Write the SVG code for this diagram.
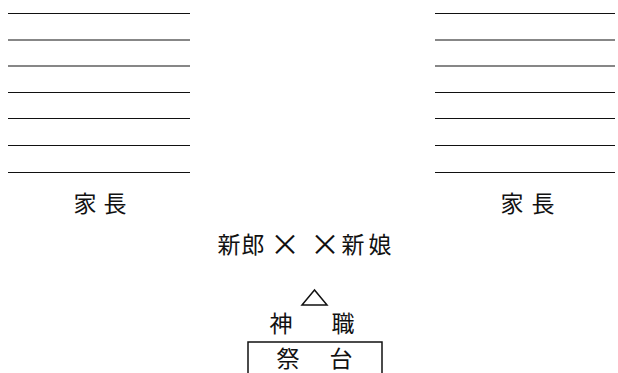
<svg xmlns="http://www.w3.org/2000/svg" width="618" height="373" viewBox="0 0 618 373">
<style>
.t{font-family:"Noto Sans CJK JP","Noto Sans CJK SC",sans-serif;font-size:23px;fill:#111;text-anchor:middle}
.x{font-size:30px}
.ln{stroke:#111;stroke-width:1.2;fill:none}
</style>
<rect width="618" height="373" fill="#fff"/>
<g id="left-lines" class="ln">
<line x1="8" y1="13.5" x2="190" y2="13.5"/>
<line x1="8" y1="40" x2="190" y2="40"/>
<line x1="8" y1="66" x2="190" y2="66"/>
<line x1="8" y1="92.5" x2="190" y2="92.5"/>
<line x1="8" y1="118.5" x2="190" y2="118.5"/>
<line x1="8" y1="145.5" x2="190" y2="145.5"/>
<line x1="8" y1="172.5" x2="190" y2="172.5"/>
</g>
<g id="right-lines" class="ln">
<line x1="435" y1="13.5" x2="615" y2="13.5"/>
<line x1="435" y1="40" x2="615" y2="40"/>
<line x1="435" y1="66" x2="615" y2="66"/>
<line x1="435" y1="92.5" x2="615" y2="92.5"/>
<line x1="435" y1="118.5" x2="615" y2="118.5"/>
<line x1="435" y1="145.5" x2="615" y2="145.5"/>
<line x1="435" y1="172.5" x2="615" y2="172.5"/>
</g>
<g id="kacho-left"><text class="t" x="85" y="212">家</text><text class="t" x="115" y="212">長</text></g>
<g id="kacho-right"><text class="t" x="512" y="212">家</text><text class="t" x="543" y="212">長</text></g>
<g id="couple">
<text class="t" x="229" y="253">新</text>
<text class="t" x="253" y="253">郎</text>
<text class="t x" x="285" y="255">×</text>
<text class="t x" x="325" y="255">×</text>
<text class="t" x="353" y="253">新</text>
<text class="t" x="380" y="253">娘</text>
</g>
<g id="priest">
<polygon points="314.5,290 302,305 327,305" fill="none" stroke="#111" stroke-width="1.5"/>
<text class="t" x="281" y="332">神</text>
<text class="t" x="343" y="332">職</text>
</g>
<g id="altar">
<path d="M248,373 V342 H382 V373" fill="none" stroke="#111" stroke-width="1.5"/>
<text class="t" x="288" y="367">祭</text>
<text class="t" x="341" y="367">台</text>
</g>
</svg>
